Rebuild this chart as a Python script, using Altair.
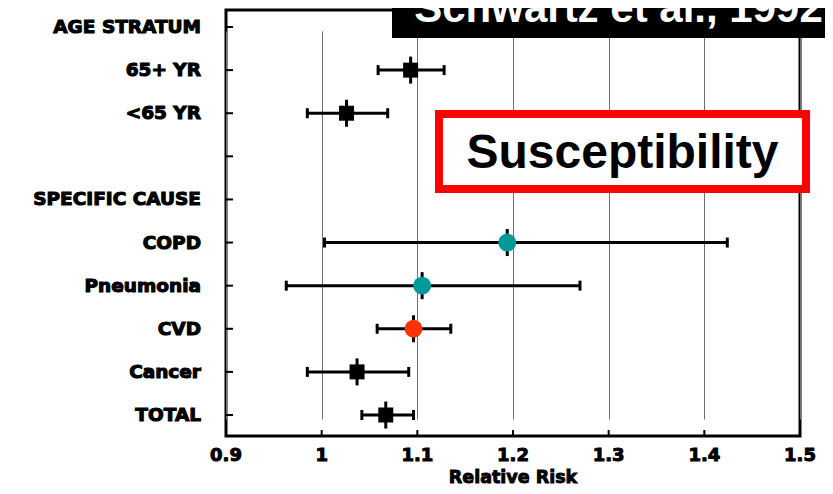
import altair as alt
import pandas as pd

# ---- data ----
categories = ["AGE STRATUM", "65+ YR", "<65 YR", " ", "SPECIFIC CAUSE",
              "COPD", "Pneumonia", "CVD", "Cancer", "TOTAL"]
rows = ["65+ YR", "<65 YR", "COPD", "Pneumonia", "CVD", "Cancer", "TOTAL"]
rr = [1.093, 1.026, 1.194, 1.105, 1.096, 1.037, 1.067]
lo = [1.059, 0.985, 1.003, 0.963, 1.058, 0.985, 1.042]
hi = [1.128, 1.069, 1.424, 1.270, 1.135, 1.091, 1.096]
marker = ["square", "square", "circle", "circle", "circle", "square", "square"]
colors = ["#000000", "#000000", "#009999", "#009999", "#FF3300", "#000000", "#000000"]
x_ticks = [0.9, 1.0, 1.1, 1.2, 1.3, 1.4, 1.5]
x_tick_labels = ["0.9", "1", "1.1", "1.2", "1.3", "1.4", "1.5"]
inner_x_ticks = [1.0, 1.1, 1.2, 1.3, 1.4]
title_text = "Schwartz et al., 1992"
box_text = "Susceptibility"
x_title = "Relative Risk"

df = pd.DataFrame({"cat": rows, "rr": rr, "lo": lo, "hi": hi,
                   "marker": marker, "color": colors})
cats_df = pd.DataFrame({"cat": categories})
xt_df = pd.DataFrame({"v": inner_x_ticks})
xl_df = pd.DataFrame({"v": x_ticks, "lab": x_tick_labels})

W, H = 574, 426
LAB = "DejaVu Sans"

yenc = alt.Y("cat:N",
             scale=alt.Scale(type="point", domain=categories, range=[17, 405], padding=0),
             axis=alt.Axis(title=None, domain=False, ticks=False, tickSize=0,
                           labels=False))
xscale = alt.Scale(domain=[0.9, 1.5], nice=False, zero=False)
xaxis = alt.Axis(title=None, values=x_ticks, grid=True,
                 gridColor="#707070", gridWidth=1, domain=False, ticks=False,
                 tickSize=0, labels=False)

base = alt.Chart(df)

ci = base.mark_rule(color="black", strokeWidth=3).encode(
    x=alt.X("lo:Q", scale=xscale, axis=xaxis), x2="hi:Q", y=yenc)
cap_lo = base.mark_tick(color="black", size=10, thickness=3, opacity=1).encode(
    x=alt.X("lo:Q", scale=xscale, axis=xaxis), y=yenc)
cap_hi = base.mark_tick(color="black", size=10, thickness=3, opacity=1).encode(
    x=alt.X("hi:Q", scale=xscale, axis=xaxis), y=yenc)
cross = base.mark_tick(color="black", size=27, thickness=3, opacity=1).encode(
    x=alt.X("rr:Q", scale=xscale, axis=xaxis), y=yenc)
squares = base.transform_filter(alt.datum.marker == "square").mark_square(
    size=225, opacity=1).encode(
    x=alt.X("rr:Q", scale=xscale, axis=xaxis), y=yenc,
    color=alt.Color("color:N", scale=None))
circles = base.transform_filter(alt.datum.marker == "circle").mark_circle(
    size=320, opacity=1).encode(
    x=alt.X("rr:Q", scale=xscale, axis=xaxis), y=yenc,
    color=alt.Color("color:N", scale=None))

ytick = alt.Chart(cats_df).mark_rule(color="black", strokeWidth=2).encode(
    x=alt.value(0), x2=alt.value(7), y=yenc)
ylabels = alt.Chart(cats_df).mark_text(font=LAB, fontSize=18.5, fontWeight="bold",
                                       color="black", stroke="black", strokeWidth=1.1,
                                       align="right", baseline="middle").encode(
    x=alt.value(-25), y=yenc, text="cat:N")
xtick = alt.Chart(xt_df).mark_rule(color="black", strokeWidth=2).encode(
    x=alt.X("v:Q", scale=xscale, axis=xaxis), y=alt.value(H), y2=alt.value(H - 6))
xlabels = alt.Chart(xl_df).mark_text(font=LAB, fontSize=18, fontWeight="bold",
                                     color="black", stroke="black", strokeWidth=1.0,
                                     align="center", baseline="middle").encode(
    x=alt.X("v:Q", scale=xscale, axis=xaxis), y=alt.value(H + 20), text="lab:N")

one = pd.DataFrame({"t": [box_text]})
red_box = alt.Chart(one).mark_rect(fill="white", stroke="#FF0000", strokeWidth=8).encode(
    x=alt.value(213), x2=alt.value(580), y=alt.value(104), y2=alt.value(179))
red_text = alt.Chart(one).mark_text(font="Liberation Sans", fontSize=48,
                                    fontWeight="bold", color="black",
                                    align="center", baseline="alphabetic").encode(
    x=alt.value(396.5), y=alt.value(158), text="t:N")

tdf = pd.DataFrame({"t": [title_text]})
black_box = alt.Chart(tdf).mark_rect(fill="black").encode(
    x=alt.value(166), x2=alt.value(620), y=alt.value(-20), y2=alt.value(28))
black_text = alt.Chart(tdf).mark_text(font="Liberation Sans", fontSize=42,
                                      fontWeight="bold", color="white",
                                      align="center", baseline="alphabetic").encode(
    x=alt.value(392.5), y=alt.value(12), text="t:N")

xdf = pd.DataFrame({"t": [x_title]})
xtitle = alt.Chart(xdf).mark_text(font=LAB, fontSize=17.5, fontWeight="bold",
                                  color="black", stroke="black", strokeWidth=0.9,
                                  align="center", baseline="middle").encode(
    x=alt.value(W / 2), y=alt.value(468), text="t:N")

chart = alt.layer(ci, cap_lo, cap_hi, ytick, ylabels, xtick, xlabels, cross,
                  squares, circles, red_box, red_text, black_box, black_text,
                  xtitle).properties(
    width=W, height=H,
    autosize=alt.AutoSizeParams(type="none"),
    padding={"left": 218, "top": 2, "right": 25, "bottom": 50},
    background="white",
).configure_view(stroke="black", strokeWidth=3)

chart.save("out.html", embed_options={"renderer": "svg", "actions": False})
